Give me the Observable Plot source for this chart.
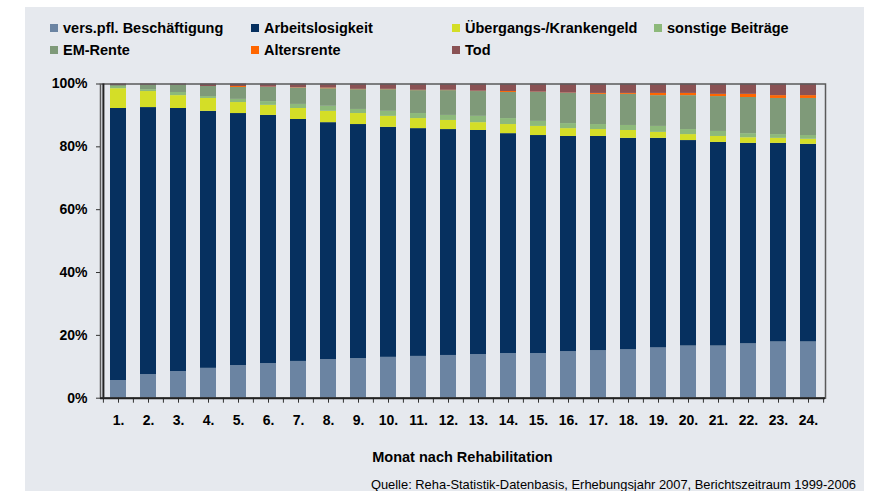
<!DOCTYPE html>
<html><head><meta charset="utf-8">
<script src="https://cdn.jsdelivr.net/npm/d3@7"></script>
<script src="https://cdn.jsdelivr.net/npm/@observablehq/plot@0.6"></script>
<style>
body{margin:0;background:#fff;font-family:"Liberation Sans",Arial,sans-serif;}
#wrap{position:relative;width:872px;height:491px;overflow:hidden;}
#panel{position:absolute;left:25px;top:7px;width:839px;height:484px;background:#e6e9ee;}
.leg{position:absolute;font-weight:bold;font-size:14.5px;line-height:16px;white-space:nowrap;color:#000;}
.leg .sw{position:absolute;left:0;top:4px;width:8px;height:8px;}
.leg .t{position:absolute;left:13px;top:0;}
#chart{position:absolute;left:0;top:60px;}
#xlabel{position:absolute;left:100px;width:725px;top:449px;text-align:center;font-weight:bold;font-size:14.5px;color:#000;}
#caption{position:absolute;right:16px;top:477px;font-size:12.9px;color:#000;white-space:nowrap;}
</style></head>
<body>
<div id="wrap">
  <div id="panel"></div>
  <div id="legend"></div>
  <div id="chart"></div>
  <div id="xlabel">Monat nach Rehabilitation</div>
  <div id="caption">Quelle: Reha-Statistik-Datenbasis, Erhebungsjahr 2007, Berichtszeitraum 1999-2006</div>
</div>
<script>
const months = ["1.","2.","3.","4.","5.","6.","7.","8.","9.","10.","11.","12.","13.","14.","15.","16.","17.","18.","19.","20.","21.","22.","23.","24."];
const seriesNames = ["vers.pfl. Beschäftigung","Arbeitslosigkeit","Übergangs-/Krankengeld","sonstige Beiträge","EM-Rente","Altersrente","Tod"];
const seriesColors = ["#6b84a2","#06305f","#d4de27","#8db97a","#7f9a79","#ff6600","#8a5254"];
const beschaeftigung = [5.6,7.5,8.5,9.5,10.4,11.0,11.7,12.3,12.6,13.0,13.3,13.6,13.9,14.2,14.2,14.8,15.1,15.4,16.0,16.6,16.6,17.3,17.9,17.9];
const arbeitslosigkeit = [86.6,85.0,83.7,81.8,80.2,79.0,77.0,75.4,74.5,73.2,72.5,71.9,71.3,70.0,69.4,68.5,68.2,67.3,66.7,65.4,64.8,63.8,63.2,62.9];
const uebergangsgeld = [6.3,5.1,4.1,4.1,3.5,3.2,3.5,3.6,3.5,3.5,3.2,2.9,2.5,2.9,2.9,2.5,2.2,2.5,1.9,1.9,1.9,1.8,1.6,1.6];
const sonstigeBeitraege = [0.7,0.6,1.0,0.6,1.0,1.2,1.3,1.6,1.3,1.6,1.6,1.6,2.0,1.9,1.6,1.6,1.6,1.6,1.9,1.6,1.6,1.3,1.2,1.2];
const emRente = [0.3,1.4,2.3,3.2,3.8,4.5,5.2,5.6,6.3,6.9,7.3,7.9,7.9,8.3,9.2,9.6,9.6,9.9,9.8,10.8,11.1,11.5,11.5,11.8];
const altersrente = [0,0,0,0,0.3,0.1,0.1,0.2,0.1,0.1,0.1,0.1,0.1,0.3,0.1,0.1,0.3,0.3,0.7,0.7,0.7,1.0,0.9,0.9];
const tod = [0.5,0.4,0.4,0.8,0.8,1.0,1.2,1.3,1.7,1.7,2.0,2.0,2.3,2.4,2.6,2.9,3.0,3.0,3.0,3.0,3.3,3.3,3.7,3.7];
const yTicks = [0,20,40,60,80,100];

const seriesValues = [beschaeftigung, arbeitslosigkeit, uebergangsgeld, sonstigeBeitraege, emRente, altersrente, tod];
const data = [];
seriesNames.forEach((s, i) => months.forEach((m, j) => data.push({month: m, series: s, value: seriesValues[i][j]})));

// legend layout
const legendCols = [50, 251, 452, 654];
const legendRows = [20, 42];
const legend = document.getElementById("legend");
seriesNames.forEach((s, i) => {
  const d = document.createElement("div");
  d.className = "leg";
  d.style.left = legendCols[i % 4] + "px";
  d.style.top = legendRows[Math.floor(i / 4)] + "px";
  d.innerHTML = `<span class="sw" style="background:${seriesColors[i]}"></span><span class="t">${s}</span>`;
  legend.appendChild(d);
});

const W = 872, mL = 100, mR = 47;
const bw = (W - mL - mR) / months.length;

const chart = Plot.plot({
  width: W,
  height: 380,
  marginTop: 23.5,
  marginBottom: 42.3,
  marginLeft: mL,
  marginRight: mR,
  style: {background: "transparent", fontFamily: "'Liberation Sans', Arial, sans-serif", fontSize: "14px", fontWeight: "bold", color: "#000"},
  x: {domain: months, padding: 0, label: null},
  y: {domain: [0, 100], label: null},
  color: {domain: seriesNames, range: seriesColors},
  marks: [
    Plot.barY(data, {x: "month", y: "value", fill: "series", insetLeft: 7, insetRight: 7}),
    Plot.frame({stroke: "#5a5a5a", strokeWidth: 1.5}),
    Plot.axisY({ticks: yTicks, tickFormat: d => d + "%", tickSize: 4, tickPadding: 9, stroke: "#333", fontWeight: "bold", label: null}),
    Plot.axisX({tickSize: 5, tickPadding: 12, stroke: "#333", fontWeight: "bold", label: null}),
    Plot.axisX({tickSize: 5, tickFormat: () => "", dx: -bw / 2, stroke: "#333", label: null}),
    Plot.axisX({ticks: [months[months.length - 1]], tickSize: 5, tickFormat: () => "", dx: bw / 2, stroke: "#333", label: null}),
    Plot.ruleY([0], {stroke: "#222", strokeWidth: 2}),
    Plot.ruleX([months[0]], {dx: -bw / 2, stroke: "#222", strokeWidth: 2})
  ]
});
document.getElementById("chart").appendChild(chart);
</script>
</body></html>
